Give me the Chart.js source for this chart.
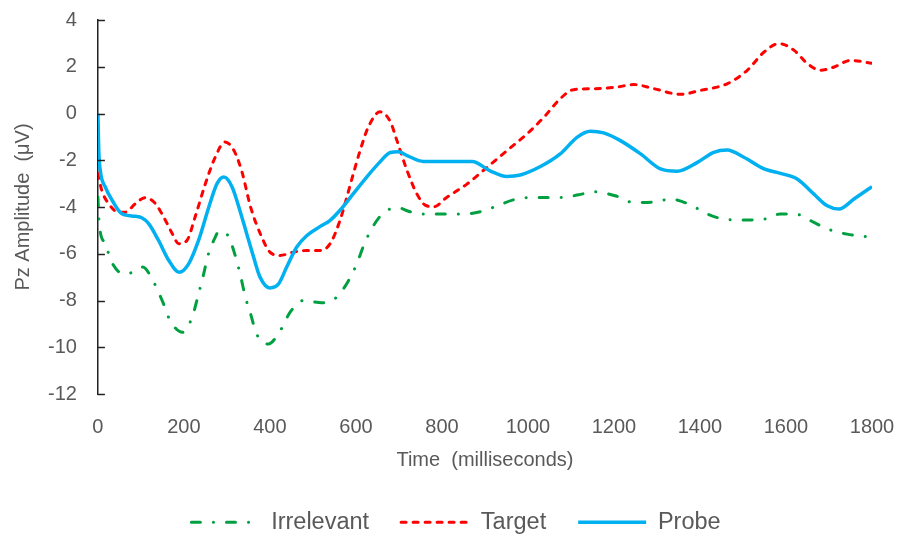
<!DOCTYPE html>
<html>
<head>
<meta charset="utf-8">
<script src="https://cdn.jsdelivr.net/npm/chart.js@4"></script>
<style>
  html, body { margin: 0; padding: 0; background: #fff; }
  #wrap { width: 912px; height: 536px; position: relative; }
</style>
</head>
<body>
<div id="wrap"><canvas id="canvas"></canvas></div>
<script>
// Werte (Zeit in ms, Amplitude in µV)
const irrTime = [0, 3, 17, 33, 60, 75, 104, 130, 150, 168, 197, 219, 233, 246, 256, 273, 281, 302, 318, 331, 343, 355, 369, 396, 424, 447, 478, 521, 555, 583, 602, 619, 641, 666, 699, 719, 750, 796, 850, 889, 908, 934, 967, 1013, 1075, 1118, 1153, 1203, 1246, 1293, 1331, 1378, 1417, 1456, 1502, 1549, 1587, 1630, 1665, 1704, 1742, 1800];
const irrVals = [-3.57, -4.71, -5.57, -6.39, -6.86, -6.83, -6.57, -7.22, -8.03, -8.86, -9.36, -8.72, -7.79, -6.86, -6.07, -5.29, -5.04, -5.21, -6.0, -6.89, -7.86, -8.57, -9.43, -9.86, -9.29, -8.5, -8.0, -8.1, -7.86, -7.14, -6.43, -5.6, -4.79, -4.22, -4.03, -4.16, -4.3, -4.3, -4.3, -4.2, -4.09, -3.91, -3.69, -3.59, -3.59, -3.48, -3.35, -3.52, -3.81, -3.79, -3.66, -3.91, -4.3, -4.52, -4.56, -4.52, -4.3, -4.33, -4.66, -4.99, -5.16, -5.3];

const targetTime = [0, 9, 25, 48, 64, 87, 110, 134, 153, 173, 188, 207, 226, 250, 273, 295, 316, 335, 355, 381, 400, 424, 455, 486, 517, 540, 563, 579, 594, 610, 629, 656, 680, 695, 719, 742, 761, 781, 811, 858, 905, 951, 998, 1037, 1075, 1106, 1153, 1207, 1246, 1293, 1355, 1401, 1463, 1510, 1549, 1584, 1619, 1650, 1681, 1712, 1750, 1800];
const targetVals = [-2.57, -3.29, -3.86, -4.22, -4.22, -3.86, -3.6, -3.86, -4.43, -5.14, -5.57, -5.43, -4.43, -3.0, -1.86, -1.22, -1.57, -2.5, -4.0, -5.29, -5.93, -6.07, -5.93, -5.86, -5.86, -5.57, -4.57, -3.57, -2.57, -1.57, -0.57, 0.07, -0.35, -1.14, -2.45, -3.45, -3.92, -3.99, -3.59, -3.02, -2.3, -1.59, -0.87, -0.16, 0.63, 1.02, 1.06, 1.13, 1.24, 1.06, 0.82, 0.99, 1.27, 1.85, 2.63, 2.99, 2.70, 2.13, 1.85, 1.99, 2.27, 2.15];

const probeTime = [0, 2, 6, 17, 33, 56, 87, 102, 118, 141, 165, 189, 211, 234, 258, 277, 293, 312, 331, 346, 362, 377, 400, 420, 439, 462, 486, 517, 540, 563, 594, 625, 656, 680, 699, 719, 757, 819, 870, 912, 951, 982, 1029, 1075, 1114, 1145, 1176, 1215, 1262, 1308, 1347, 1394, 1432, 1463, 1502, 1549, 1587, 1626, 1665, 1696, 1723, 1758, 1800];
const probeVals = [0, -1.6, -2.5, -3.14, -3.71, -4.29, -4.4, -4.46, -4.71, -5.43, -6.29, -6.79, -6.43, -5.43, -4.0, -3.0, -2.72, -3.14, -4.2, -5.14, -6.14, -7.0, -7.46, -7.29, -6.57, -5.72, -5.22, -4.83, -4.57, -4.14, -3.43, -2.72, -2.07, -1.67, -1.64, -1.8, -2.05, -2.05, -2.05, -2.45, -2.69, -2.63, -2.27, -1.73, -1.02, -0.76, -0.83, -1.16, -1.73, -2.37, -2.47, -2.09, -1.66, -1.56, -1.87, -2.37, -2.56, -2.8, -3.45, -3.95, -4.09, -3.66, -3.13];

const seriesNames = ['Irrelevant', 'Target', 'Probe'];
const xTitle = 'Time  (milliseconds)';
const yTitle = 'Pz Amplitude  (\u03BCV)';

const toPoints = (ts, vs) => ts.map((t, i) => ({ x: t, y: vs[i] }));

const grey = '#595959';
const fam = 'Arial, "Liberation Sans", sans-serif';
const axisFont = { family: fam, size: 20 };

// kleine Striche nach innen an der y-Achse
const innerTicks = {
  id: 'innerTicks',
  afterDraw(chart) {
    const y = chart.scales.y;
    const ctx = chart.ctx;
    ctx.save();
    ctx.strokeStyle = '#222';
    ctx.lineWidth = 1.5;
    y.ticks.forEach(t => {
      const py = Math.round(y.getPixelForValue(t.value)) + 0.5;
      ctx.beginPath();
      ctx.moveTo(y.right, py);
      ctx.lineTo(y.right + 7, py);
      ctx.stroke();
    });
    ctx.restore();
  }
};

const chart = new Chart(document.querySelector('#canvas'), {
  type: 'line',
  data: {
    datasets: [
      {
        label: seriesNames[0],
        data: toPoints(irrTime, irrVals),
        borderColor: '#00A040',
        borderWidth: 3,
        borderDash: [9, 13, 0.1, 13],
        borderCapStyle: 'round',
        order: 2
      },
      {
        label: seriesNames[1],
        data: toPoints(targetTime, targetVals),
        borderColor: '#FF0000',
        borderWidth: 3,
        borderDash: [5, 7],
        borderCapStyle: 'round',
        order: 1
      },
      {
        label: seriesNames[2],
        data: toPoints(probeTime, probeVals),
        borderColor: '#00B0F0',
        borderWidth: 3.5,
        order: 0
      }
    ]
  },
  options: {
    responsive: true,
    maintainAspectRatio: false,
    animation: false,
    devicePixelRatio: 1,
    elements: {
      point: { radius: 0 },
      line: { tension: 0.4, cubicInterpolationMode: 'monotone', fill: false }
    },
    layout: { padding: { top: 0, right: 0, bottom: -8, left: 0 } },
    scales: {
      x: {
        type: 'linear',
        min: 0,
        max: 1800,
        afterFit: s => { s.paddingRight = 40; },
        ticks: { stepSize: 200, color: grey, font: axisFont, padding: 21, maxRotation: 0, callback: v => String(v) },
        grid: { display: false, drawTicks: false },
        border: { display: false },
        title: { display: true, text: xTitle, color: grey, font: axisFont, padding: { top: -12, bottom: 6.5 } }
      },
      y: {
        min: -12,
        max: 4,
        afterFit: s => { s.paddingTop = 20; },
        ticks: { stepSize: 2, color: grey, font: axisFont, padding: 21, callback: v => String(v) },
        grid: { display: false, drawTicks: false },
        border: { display: true, color: '#222', width: 1.5 },
        title: { display: true, text: yTitle, color: grey, font: axisFont, padding: { top: 11, bottom: -8 } }
      }
    },
    plugins: {
      tooltip: { enabled: false },
      legend: {
        position: 'bottom',
        labels: {
          usePointStyle: true,
          pointStyle: 'line',
          pointStyleWidth: 68,
          color: grey,
          font: { family: fam, size: 23.5 },
          padding: 32,
          sort: (a, b) => a.datasetIndex - b.datasetIndex,
          generateLabels: (ch) => {
            const items = Chart.defaults.plugins.legend.labels.generateLabels(ch);
            items.forEach(it => {
              const ds = ch.data.datasets[it.datasetIndex];
              it.lineDash = ds.borderDash || [];
              it.lineWidth = ds.borderWidth;
              it.lineCap = ds.borderCapStyle || 'butt';
              it.strokeStyle = ds.borderColor;
            });
            return items;
          }
        }
      }
    }
  },
  plugins: [innerTicks]
});
</script>
</body>
</html>
